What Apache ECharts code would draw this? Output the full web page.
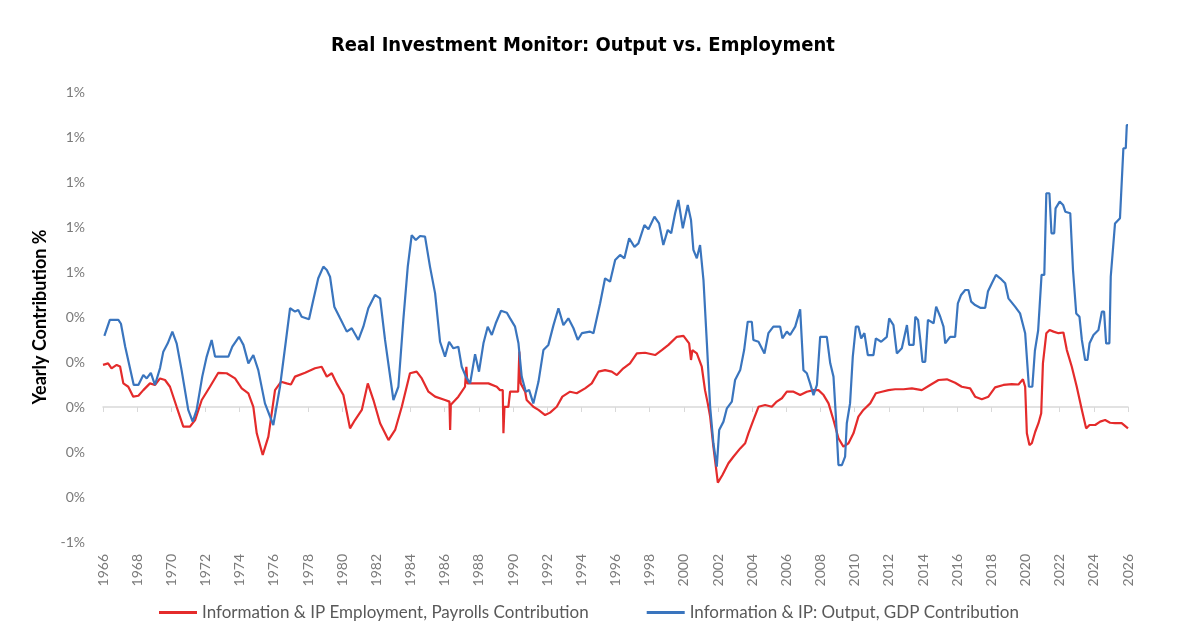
<!DOCTYPE html>
<html>

<head>
  <meta charset="utf-8" />
  <title>Real Investment Monitor</title>
</head>
<style type="text/css">
  body {
    margin: 0;
    background: #fff;
  }

  #main {
    width: 1200px;
    height: 640px;
  }
</style>

<body>
  <div id="main"></div>
  <script src="https://cdn.jsdelivr.net/npm/echarts@6/dist/echarts.min.js"></script>
  <script>
    var titleText = 'Real Investment Monitor: Output vs. Employment';
    var empName = 'Information & IP Employment, Payrolls Contribution';
    var gdpName = 'Information & IP: Output, GDP Contribution';

    // payrolls contribution, % (red)
    var empYears = [1966.0, 1966.3, 1966.5, 1966.8, 1967.0, 1967.19, 1967.48, 1967.77, 1968.07, 1968.36, 1968.75,
      1969.04, 1969.34, 1969.63, 1969.92, 1970.31, 1970.7, 1971.09, 1971.39, 1971.78, 1972.26, 1972.75, 1973.24,
      1973.73, 1974.12, 1974.51, 1974.8, 1975.0, 1975.35, 1975.68, 1976.07, 1976.42, 1976.75, 1977.0, 1977.24,
      1977.83, 1978.41, 1978.8, 1979.1, 1979.39, 1979.68, 1980.07, 1980.46, 1980.75, 1981.15, 1981.5, 1981.83,
      1982.22, 1982.71, 1983.1, 1983.49, 1983.97, 1984.36, 1984.66, 1985.05, 1985.44, 1986.02, 1986.28, 1986.32,
      1986.36, 1986.8, 1987.19, 1987.27, 1987.33, 1987.49, 1987.97, 1988.56, 1989.05, 1989.24, 1989.4, 1989.44,
      1989.5, 1989.73, 1989.83, 1990.3, 1990.37, 1990.45, 1990.71, 1990.8, 1991.19, 1991.49, 1991.88, 1992.17,
      1992.56, 1992.89, 1993.34, 1993.73, 1994.22, 1994.61, 1995.0, 1995.39, 1995.78, 1996.08, 1996.46, 1996.85,
      1997.25, 1997.73, 1998.32, 1998.71, 1999.1, 1999.59, 1999.98, 2000.31, 2000.42, 2000.5, 2000.76, 2001.05,
      2001.24, 2001.4, 2001.54, 2001.73, 2001.99, 2002.26, 2002.61, 2002.9, 2003.3, 2003.59, 2003.78, 2004.07,
      2004.37, 2004.76, 2005.15, 2005.44, 2005.74, 2006.03, 2006.42, 2006.81, 2007.2, 2007.59, 2007.88, 2008.18,
      2008.47, 2008.76, 2009.05, 2009.34, 2009.64, 2009.93, 2010.22, 2010.51, 2010.91, 2011.24, 2011.59, 2011.98,
      2012.37, 2012.86, 2013.35, 2013.93, 2014.42, 2014.91, 2015.4, 2015.88, 2016.27, 2016.76, 2017.05, 2017.44,
      2017.83, 2018.22, 2018.71, 2019.2, 2019.59, 2019.85, 2019.98, 2020.08, 2020.23, 2020.37, 2020.57, 2020.76,
      2020.92, 2021.02, 2021.22, 2021.41, 2021.64, 2021.93, 2022.22, 2022.42, 2022.71, 2023.0, 2023.3, 2023.55,
      2023.75, 2024.08, 2024.37, 2024.66, 2024.95, 2025.24, 2025.63, 2026.0
    ];
    var empValues = [0.187, 0.194, 0.172, 0.187, 0.18, 0.105, 0.09, 0.046, 0.05, 0.075, 0.105,
      0.098, 0.127, 0.12, 0.09, 0.001, -0.087, -0.087, -0.058, 0.031, 0.09, 0.152, 0.15,
      0.127, 0.083, 0.061, 0.001, -0.117, -0.213, -0.132, 0.075, 0.112, 0.105, 0.1, 0.135,
      0.152, 0.172, 0.179, 0.135, 0.15, 0.105, 0.053, -0.095, -0.058, -0.013, 0.105, 0.031,
      -0.072, -0.147, -0.102, 0.001, 0.15, 0.157, 0.127, 0.068, 0.046, 0.031, 0.024, -0.102,
      0.01, 0.046, 0.09, 0.179, 0.105, 0.105, 0.105, 0.105, 0.09, 0.075, 0.075, -0.117,
      0.001, 0.001, 0.068, 0.068, 0.246, 0.105, 0.068, 0.031, 0.001, -0.013, -0.036, -0.025,
      0.001, 0.046, 0.068, 0.061, 0.083, 0.105, 0.157, 0.164, 0.157, 0.142, 0.172, 0.194,
      0.238, 0.241, 0.231, 0.253, 0.276, 0.312, 0.316, 0.283, 0.209, 0.253, 0.238, 0.179,
      0.075, 0.016, -0.043, -0.176, -0.336, -0.302, -0.25, -0.221, -0.184, -0.161, -0.117, -0.058,
      0.001, 0.009, 0.001, 0.024, 0.039, 0.068, 0.068, 0.053, 0.068, 0.075, 0.075, 0.053,
      0.016, -0.058, -0.139, -0.176, -0.161, -0.117, -0.043, -0.013, 0.016, 0.061, 0.068, 0.075,
      0.079, 0.079, 0.083, 0.075, 0.098, 0.12, 0.123, 0.108, 0.09, 0.083, 0.046, 0.034,
      0.046, 0.087, 0.098, 0.102, 0.1, 0.123, 0.09, -0.117, -0.169, -0.161, -0.11, -0.072,
      -0.028, 0.194, 0.328, 0.342, 0.335, 0.328, 0.331, 0.253, 0.179, 0.09, -0.013, -0.095,
      -0.08, -0.08, -0.065, -0.058, -0.07, -0.072, -0.072, -0.095
    ];

    // GDP output contribution, % (blue)
    var gdpYears = [1966.08, 1966.4, 1966.9, 1967.05, 1967.3, 1967.8, 1968.07, 1968.36, 1968.56, 1968.8, 1969.04,
      1969.34, 1969.53, 1969.79, 1970.06, 1970.31, 1970.6, 1970.99, 1971.25, 1971.48, 1971.81, 1972.07, 1972.36,
      1972.56, 1973.34, 1973.57, 1973.96, 1974.22, 1974.51, 1974.8, 1975.09, 1975.48, 1975.97, 1976.36, 1976.7,
      1976.95, 1977.24, 1977.43, 1977.63, 1978.06, 1978.31, 1978.6, 1978.9, 1979.1, 1979.29, 1979.54, 1979.88,
      1980.27, 1980.56, 1980.95, 1981.24, 1981.53, 1981.92, 1982.22, 1982.51, 1983.0, 1983.29, 1983.58, 1983.84,
      1984.07, 1984.31, 1984.56, 1984.85, 1985.14, 1985.44, 1985.73, 1986.02, 1986.26, 1986.51, 1986.8, 1987.0,
      1987.24, 1987.49, 1987.78, 1988.01, 1988.27, 1988.52, 1988.76, 1988.99, 1989.3, 1989.64, 1989.83, 1990.12,
      1990.32, 1990.51, 1990.75, 1990.94, 1991.19, 1991.49, 1991.78, 1992.07, 1992.37, 1992.66, 1992.95, 1993.24,
      1993.54, 1993.79, 1994.03, 1994.51, 1994.71, 1995.1, 1995.39, 1995.68, 1995.98, 1996.27, 1996.52, 1996.8,
      1997.11, 1997.34, 1997.69, 1997.93, 1998.28, 1998.55, 1998.8, 1999.06, 1999.26, 1999.49, 1999.68, 1999.94,
      2000.23, 2000.42, 2000.56, 2000.76, 2000.95, 2001.15, 2001.35, 2001.54, 2001.73, 2001.93, 2002.07, 2002.32,
      2002.52, 2002.81, 2003.0, 2003.3, 2003.53, 2003.74, 2003.98, 2004.07, 2004.37, 2004.72, 2004.95, 2005.24,
      2005.64, 2005.77, 2006.03, 2006.22, 2006.52, 2006.81, 2007.0, 2007.2, 2007.39, 2007.59, 2007.79, 2007.98,
      2008.37, 2008.57, 2008.76, 2008.9, 2009.05, 2009.25, 2009.44, 2009.54, 2009.73, 2009.89, 2010.07, 2010.22,
      2010.38, 2010.57, 2010.77, 2011.1, 2011.24, 2011.55, 2011.88, 2012.02, 2012.27, 2012.47, 2012.76, 2013.06,
      2013.19, 2013.45, 2013.55, 2013.71, 2013.84, 2013.97, 2014.13, 2014.29, 2014.62, 2014.77, 2015.01, 2015.2,
      2015.3, 2015.59, 2015.88, 2016.04, 2016.23, 2016.47, 2016.66, 2016.82, 2017.05, 2017.35, 2017.64, 2017.8,
      2018.03, 2018.27, 2018.52, 2018.81, 2019.0, 2019.39, 2019.68, 2019.98, 2020.2, 2020.4, 2020.55, 2020.74,
      2020.94, 2021.1, 2021.22, 2021.4, 2021.52, 2021.68, 2021.76, 2022.0, 2022.2, 2022.33, 2022.62, 2022.78,
      2022.97, 2023.16, 2023.3, 2023.49, 2023.63, 2023.75, 2023.98, 2024.27, 2024.47, 2024.6, 2024.72, 2024.91,
      2024.99, 2025.24, 2025.53, 2025.73, 2025.87, 2025.93, 2026.0
    ];
    var gdpValues = [0.316, 0.387, 0.387, 0.37, 0.268, 0.098, 0.098, 0.142, 0.127, 0.152, 0.098,
      0.173, 0.246, 0.283, 0.335, 0.283, 0.164, -0.013, -0.065, -0.013, 0.135, 0.224, 0.298,
      0.224, 0.224, 0.268, 0.312, 0.276, 0.194, 0.231, 0.164, 0.016, -0.08, 0.09, 0.29,
      0.439, 0.424, 0.431, 0.401, 0.39, 0.476, 0.572, 0.624, 0.609, 0.579, 0.446, 0.394,
      0.335, 0.35, 0.298, 0.357, 0.439, 0.498, 0.483, 0.298, 0.031, 0.09, 0.387, 0.624,
      0.764, 0.742, 0.76, 0.757, 0.624, 0.505, 0.29, 0.224, 0.29, 0.261, 0.268, 0.179,
      0.135, 0.105, 0.235, 0.157, 0.283, 0.357, 0.32, 0.372, 0.428, 0.419, 0.394, 0.357,
      0.283, 0.135, 0.068, 0.076, 0.016, 0.112, 0.253, 0.276, 0.364, 0.439, 0.364, 0.394,
      0.35, 0.298, 0.328, 0.335, 0.328, 0.461, 0.572, 0.557, 0.653, 0.676, 0.661, 0.75,
      0.712, 0.727, 0.809, 0.79, 0.846, 0.816, 0.72, 0.787, 0.772, 0.861, 0.92, 0.794,
      0.898, 0.831, 0.698, 0.661, 0.72, 0.564, 0.283, 0.001, -0.161, -0.265, -0.102, -0.065,
      -0.006, 0.024, 0.12, 0.164, 0.253, 0.379, 0.379, 0.298, 0.29, 0.238, 0.328, 0.357,
      0.357, 0.305, 0.335, 0.32, 0.357, 0.434, 0.164, 0.15, 0.105, 0.053, 0.098, 0.312,
      0.312, 0.194, 0.135, -0.043, -0.258, -0.258, -0.221, -0.072, 0.016, 0.224, 0.357, 0.357,
      0.305, 0.328, 0.231, 0.231, 0.305, 0.29, 0.312, 0.394, 0.364, 0.238, 0.261, 0.364,
      0.276, 0.276, 0.401, 0.387, 0.298, 0.201, 0.201, 0.387, 0.372, 0.446, 0.401, 0.357,
      0.283, 0.312, 0.312, 0.461, 0.498, 0.52, 0.52, 0.468, 0.453, 0.441, 0.441, 0.513,
      0.55, 0.587, 0.572, 0.55, 0.483, 0.446, 0.416, 0.328, 0.09, 0.09, 0.25, 0.34,
      0.587, 0.587, 0.95, 0.95, 0.772, 0.772, 0.883, 0.913, 0.898, 0.868, 0.861, 0.609,
      0.416, 0.401, 0.298, 0.209, 0.209, 0.283, 0.32, 0.342, 0.424, 0.424, 0.283, 0.283,
      0.579, 0.816, 0.839, 1.15, 1.15, 1.253, 1.253
    ];

    function zip(xs, ys) {
      return xs.map(function (x, i) {
        return [x, ys[i]];
      });
    }

    var myChart = echarts.init(document.getElementById('main'));

    var axisFont = {
      color: '#7a7a7a',
      fontSize: 14,
      fontFamily: 'Lato'
    };

    var option = {
      animation: false,
      backgroundColor: '#fff',
      title: {
        text: titleText,
        left: 326,
        top: 31,
        textStyle: {
          fontFamily: "'Liberation Sans Narrow', 'DejaVu Sans Condensed', 'Roboto', sans-serif",
          fontWeight: 'bold',
          fontSize: 20,
          color: '#000'
        }
      },
      legend: {
        bottom: 14,
        left: 154,
        itemGap: 58,
        itemWidth: 38,
        itemHeight: 3,
        icon: 'rect',
        textStyle: {
          color: '#595959',
          fontSize: 17,
          fontFamily: 'Lato'
        },
        data: [empName, gdpName]
      },
      grid: {
        left: 103,
        right: 72,
        top: 92,
        bottom: 98
      },
      xAxis: [{
        // axis line at zero with tick marks
        type: 'value',
        min: 1966,
        max: 2026,
        interval: 2,
        position: 'bottom',
        axisLine: {
          onZero: true,
          lineStyle: {
            color: '#d9d9d9',
            width: 1.5
          }
        },
        axisTick: {
          show: true,
          length: 5,
          lineStyle: {
            color: '#d9d9d9'
          }
        },
        axisLabel: {
          show: false
        },
        splitLine: {
          show: false
        }
      }, {
        // year labels at the bottom
        type: 'value',
        min: 1966,
        max: 2026,
        interval: 2,
        position: 'bottom',
        axisLine: {
          show: false,
          onZero: false
        },
        axisTick: {
          show: false
        },
        axisLabel: Object.assign({
          rotate: 90,
          margin: 12,
          formatter: function (v) {
            return String(Math.round(v));
          }
        }, axisFont),
        splitLine: {
          show: false
        }
      }],
      yAxis: {
        type: 'value',
        min: -0.6,
        max: 1.4,
        interval: 0.2,
        name: 'Yearly Contribution %',
        nameLocation: 'middle',
        nameRotate: 90,
        nameGap: 46,
        nameTextStyle: {
          color: '#000',
          fontWeight: 'bold',
          fontSize: 18,
          fontFamily: 'Lato'
        },
        axisLine: {
          show: false
        },
        axisTick: {
          show: false
        },
        splitLine: {
          show: false
        },
        axisLabel: Object.assign({
          margin: 18,
          formatter: function (v) {
            return Math.round(v) + '%';
          }
        }, axisFont)
      },
      series: [{
        name: empName,
        type: 'line',
        xAxisIndex: 0,
        showSymbol: false,
        symbol: 'none',
        color: '#E42B2B',
        lineStyle: {
          width: 2.2
        },
        data: zip(empYears, empValues)
      }, {
        name: gdpName,
        type: 'line',
        xAxisIndex: 0,
        showSymbol: false,
        symbol: 'none',
        color: '#3A75BE',
        lineStyle: {
          width: 2.2
        },
        data: zip(gdpYears, gdpValues)
      }]
    };
    myChart.setOption(option);
  </script>
</body>

</html>
